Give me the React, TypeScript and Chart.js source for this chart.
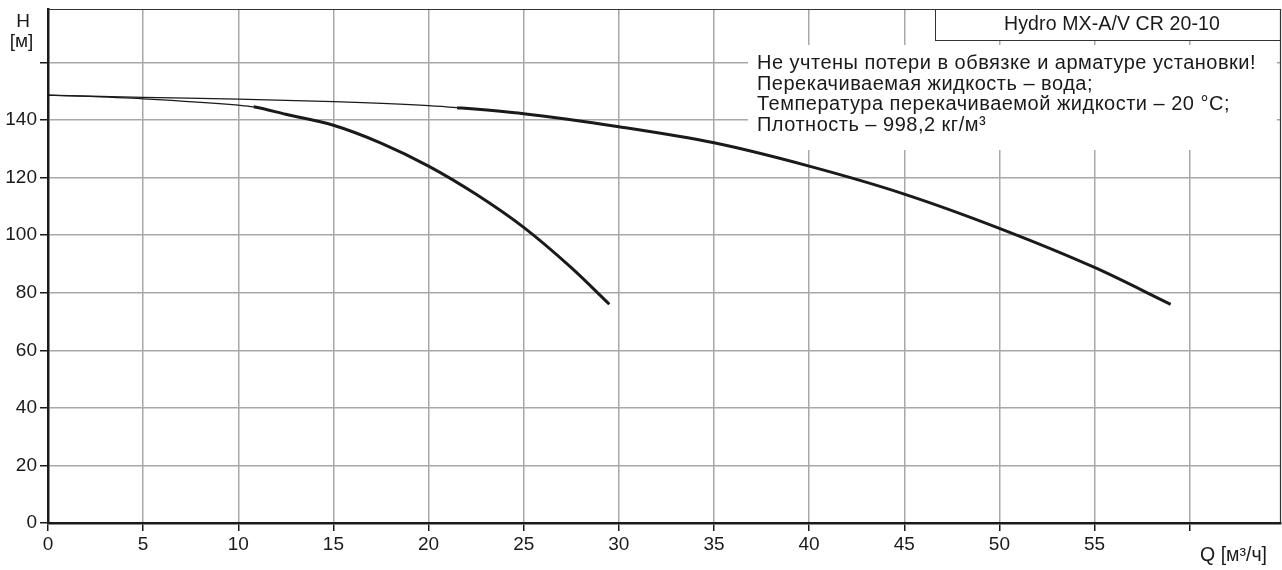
import React, { useEffect, useRef } from 'react';
import { Chart, registerables } from 'chart.js';

Chart.register(...registerables);

// ---- data ----
const xTicks = [0, 5, 10, 15, 20, 25, 30, 35, 40, 45, 50, 55, 60];
const xTickLabels = ['0', '5', '10', '15', '20', '25', '30', '35', '40', '45', '50', '55', ''];
const yTicks = [0, 20, 40, 60, 80, 100, 120, 140, 160];
const yTickLabels = ['0', '20', '40', '60', '80', '100', '120', '140', ''];

// curve for both pumps
const q1 = [0, 5, 10, 15, 20, 21.5, 25, 30, 35, 40, 45, 50, 55, 59];
const h1 = [148.7, 147.9, 147.3, 146.4, 145.0, 144.3, 142.2, 137.7, 132.1, 124.0, 114.3, 102.4, 88.8, 76.0];
// curve for one pump
const q2 = [0, 5, 10, 10.8, 12.5, 15, 17.5, 20, 22.5, 25, 27.5, 29.5];
const h2 = [148.7, 147.4, 145.2, 144.6, 142.0, 138.2, 132.0, 124.0, 114.2, 102.7, 88.7, 76.0];

const thickFrom1 = 21.5;
const thickFrom2 = 10.8;

const titleText = 'Hydro MX-A/V CR 20-10';
const noteLines = [
  'Не учтены потери в обвязке и арматуре установки!',
  'Перекачиваемая жидкость – вода;',
  'Температура перекачиваемой жидкости – 20 °C;',
  'Плотность – 998,2 кг/м³',
];
const yTitleLines = ['H', '[м]'];
const xTitle = 'Q [м³/ч]';

const FONT = '"Liberation Sans", Arial, sans-serif';
const INK = '#1a1a1a';

const fitSpacing = (ctx: any, text: string, target: number) => {
  ctx.letterSpacing = '0px';
  const w = ctx.measureText(text).width;
  return Math.max(0, (target - w) / text.length);
};

const overlayPlugin = {
  id: 'overlay',
  beforeDatasetsDraw(chart: any) {
    const { ctx, chartArea } = chart;
    ctx.save();
    // notes box (white, hides grid)
    const nx = 748;
    const ny = 45;
    ctx.fillStyle = '#ffffff';
    ctx.fillRect(nx, ny, chartArea.right - 4 - nx, 105);
    ctx.fillStyle = INK;
    ctx.font = `20px ${FONT}`;
    ctx.textAlign = 'left';
    ctx.textBaseline = 'alphabetic';
    const ls = fitSpacing(ctx, noteLines[0], 499);
    ctx.letterSpacing = `${ls}px`;
    noteLines.forEach((l, i) => ctx.fillText(l, 757, 69 + i * 20.5));
    ctx.letterSpacing = '0px';
    // title box
    const bx = 935;
    const by = chartArea.top;
    const bw = chartArea.right - bx;
    const bh = 31;
    ctx.fillStyle = '#ffffff';
    ctx.fillRect(bx, by, bw, bh);
    ctx.strokeStyle = '#333';
    ctx.lineWidth = 1;
    ctx.strokeRect(bx + 0.5, by + 0.5, bw - 1, bh);
    ctx.fillStyle = INK;
    ctx.font = `19.5px ${FONT}`;
    ctx.textAlign = 'left';
    const ts = fitSpacing(ctx, titleText, 216);
    ctx.letterSpacing = `${ts}px`;
    ctx.fillText(titleText, 1004, 30);
    ctx.letterSpacing = '0px';
    ctx.restore();
  },
  afterDraw(chart: any) {
    const { ctx, chartArea } = chart;
    ctx.save();
    // top and right frame
    ctx.strokeStyle = '#333';
    ctx.lineWidth = 1.2;
    ctx.beginPath();
    ctx.moveTo(chartArea.left, chartArea.top + 0.5);
    ctx.lineTo(chartArea.right - 0.5, chartArea.top + 0.5);
    ctx.lineTo(chartArea.right - 0.5, chartArea.bottom);
    ctx.stroke();
    // axis titles
    ctx.fillStyle = INK;
    ctx.font = `19px ${FONT}`;
    ctx.textAlign = 'center';
    ctx.textBaseline = 'alphabetic';
    ctx.fillText(yTitleLines[0], 23, 27);
    ctx.fillText(yTitleLines[1], 21.5, 47);
    ctx.textAlign = 'right';
    ctx.font = `19.5px ${FONT}`;
    ctx.fillText(xTitle, 1267, 561);
    ctx.restore();
  },
};

export default function App() {
  const ref = useRef<HTMLCanvasElement | null>(null);

  useEffect(() => {
    if (!ref.current) return;
    Chart.defaults.font.family = FONT;
    const mk = (qs: number[], hs: number[]) => qs.map((q, i) => ({ x: q, y: hs[i] }));
    const chart = new Chart(ref.current, {
      type: 'line',
      data: {
        datasets: [
          {
            data: mk(q1, h1),
            borderColor: INK,
            borderWidth: 3,
            pointRadius: 0,
            cubicInterpolationMode: 'monotone',
            segment: { borderWidth: (c: any) => (c.p0.parsed.x < thickFrom1 ? 1.3 : 3) },
          },
          {
            data: mk(q2, h2),
            borderColor: INK,
            borderWidth: 3,
            pointRadius: 0,
            cubicInterpolationMode: 'monotone',
            segment: { borderWidth: (c: any) => (c.p0.parsed.x < thickFrom2 ? 1.3 : 3) },
          },
        ],
      },
      options: {
        animation: false,
        responsive: true,
        maintainAspectRatio: false,
        layout: { padding: { top: 9, right: 1, left: 0, bottom: 0 } },
        plugins: { legend: { display: false }, tooltip: { enabled: false } },
        scales: {
          x: {
            type: 'linear',
            min: 0,
            max: 64.8,
            afterBuildTicks: (s: any) => {
              s.ticks = xTicks.map((v) => ({ value: v }));
            },
            afterFit: (s: any) => {
              s.height = 47;
              s.paddingLeft = 0;
              s.paddingRight = 0;
            },
            ticks: {
              autoSkip: false,
              maxRotation: 0,
              padding: 2,
              color: INK,
              font: { size: 19 },
              callback: (v: any) => xTickLabels[xTicks.indexOf(Number(v))] ?? '',
            },
            grid: { color: '#a8a8a8', lineWidth: 1.5, tickColor: INK, tickLength: 8, tickWidth: 1.5 },
            border: { color: INK, width: 2.5 },
          },
          y: {
            type: 'linear',
            min: 0,
            max: 178.6,
            afterBuildTicks: (s: any) => {
              s.ticks = yTicks.map((v) => ({ value: v }));
            },
            afterFit: (s: any) => {
              s.width = 48;
              s.paddingTop = 0;
              s.paddingBottom = 0;
            },
            ticks: {
              autoSkip: false,
              padding: 3,
              color: INK,
              font: { size: 19 },
              callback: (v: any) => yTickLabels[yTicks.indexOf(Number(v))] ?? '',
            },
            grid: { color: '#a8a8a8', lineWidth: 1.5, tickColor: INK, tickLength: 8, tickWidth: 1.5 },
            border: { color: INK, width: 2.5 },
          },
        },
      },
      plugins: [overlayPlugin],
    } as any);
    return () => chart.destroy();
  }, []);

  return (
    <div style={{ position: 'absolute', left: 0, top: 0, width: 1282, height: 570, background: '#fff' }}>
      <canvas ref={ref} />
    </div>
  );
}
